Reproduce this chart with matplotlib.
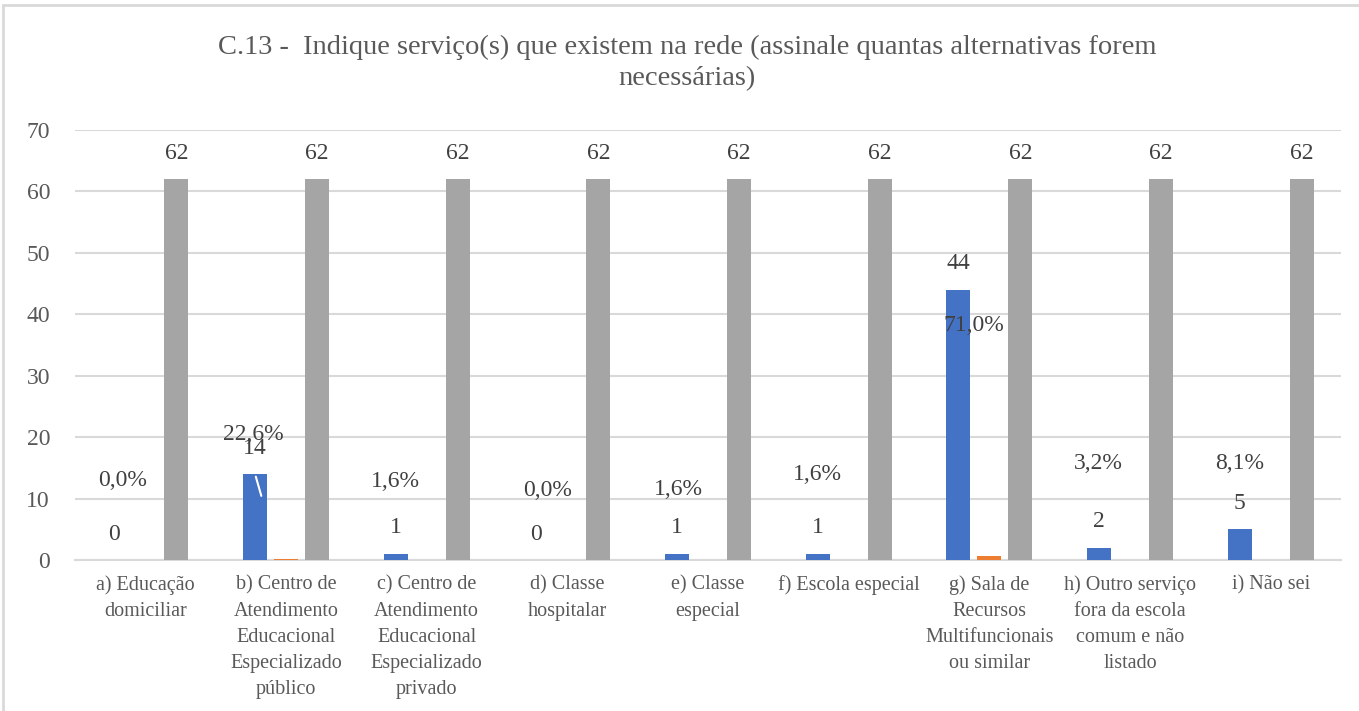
import matplotlib.pyplot as plt
import numpy as np
from matplotlib.patches import Rectangle

# data
categories = [
    "a) Educação\ndomiciliar",
    "b) Centro de\nAtendimento\nEducacional\nEspecializado\npúblico",
    "c) Centro de\nAtendimento\nEducacional\nEspecializado\nprivado",
    "d) Classe\nhospitalar",
    "e) Classe\nespecial",
    "f) Escola especial",
    "g) Sala de\nRecursos\nMultifuncionais\nou similar",
    "h) Outro serviço\nfora da escola\ncomum e não\nlistado",
    "i) Não sei",
]
counts = [0, 14, 1, 0, 1, 1, 44, 2, 5]
shares = [0.0, 0.226, 0.016, 0.0, 0.016, 0.016, 0.710, 0.032, 0.081]
totals = [62, 62, 62, 62, 62, 62, 62, 62, 62]

title = ("C.13 -  Indique serviço(s) que existem na rede (assinale quantas alternativas forem\n"
         "necessárias)")

# where Excel put the percentage labels, px relative to the blue bar top
pct_offsets = [(8, 79), (-2, 39), (0, 72), (11, 69), (1, 64), (0, 79), (15, -36), (-1, 84), (0, 66)]

plt.rcParams['font.family'] = ['Liberation Serif', 'DejaVu Serif']

W, H = 1359, 711
fig = plt.figure(figsize=(W / 100, H / 100), dpi=100)
ax = fig.add_axes([75 / W, 1 - 560 / H, (1341 - 75) / W, (560 - 130) / H])

# chart frame
fig.patches.append(Rectangle((3 / W, -0.1), 1.2, 1 - 5 / H + 0.1, transform=fig.transFigure,
                             fill=False, edgecolor='#d9d9d9', linewidth=2))

x = np.arange(len(categories))
step = 0.22
bw = 0.17
blue, orange, gray = '#4472C4', '#ED7D31', '#A5A5A5'
ax.bar(x - step, counts, bw, color=blue, zorder=3)
ax.bar(x, shares, bw, color=orange, zorder=3)
ax.bar(x + step, totals, bw, color=gray, zorder=3)

pt = 0.72  # points per pixel at dpi 100
lbl = dict(ha='center', va='center', fontsize=17, color='#404040', textcoords='offset points')
for i in range(len(categories)):
    ax.annotate(str(counts[i]), (x[i] - step, counts[i]), xytext=(0, 26 * pt), **lbl)
    ax.annotate(str(totals[i]), (x[i] + step, totals[i]), xytext=(0, 26 * pt), **lbl)
    dx, dy = pct_offsets[i]
    txt = f"{shares[i] * 100:.1f}%".replace('.', ',')
    ax.annotate(txt, (x[i] - step, counts[i]), xytext=(dx * pt, dy * pt), zorder=5, **lbl)

# leader line on b)
ax.annotate('', (x[1] - step + 0.05, counts[1] - 4), xytext=(x[1] - step, counts[1]),
            arrowprops=dict(arrowstyle='-', color='white', lw=1.5), zorder=4)

ax.set_xlim(-0.5, len(categories) - 0.5)
ax.set_ylim(0, 70)
ax.set_yticks(range(0, 71, 10))
ax.set_xticks(x)
ax.set_xticklabels(categories, fontsize=14.5, color='#595959', linespacing=1.5, va='top')
ax.tick_params(axis='y', labelsize=17, labelcolor='#595959', length=0, pad=18)
ax.tick_params(axis='x', length=0, pad=11)
ax.grid(axis='y', color='#d9d9d9', linewidth=1.5, zorder=0)
for s in ['top', 'right', 'left']:
    ax.spines[s].set_visible(False)
ax.spines['bottom'].set_color('#d9d9d9')
ax.spines['bottom'].set_linewidth(1.5)

fig.text(687 / W, 1 - 63 / H, title, ha='center', va='center', fontsize=20.5,
         color='#595959', linespacing=1.3)

fig.savefig('out.png', dpi=100)
